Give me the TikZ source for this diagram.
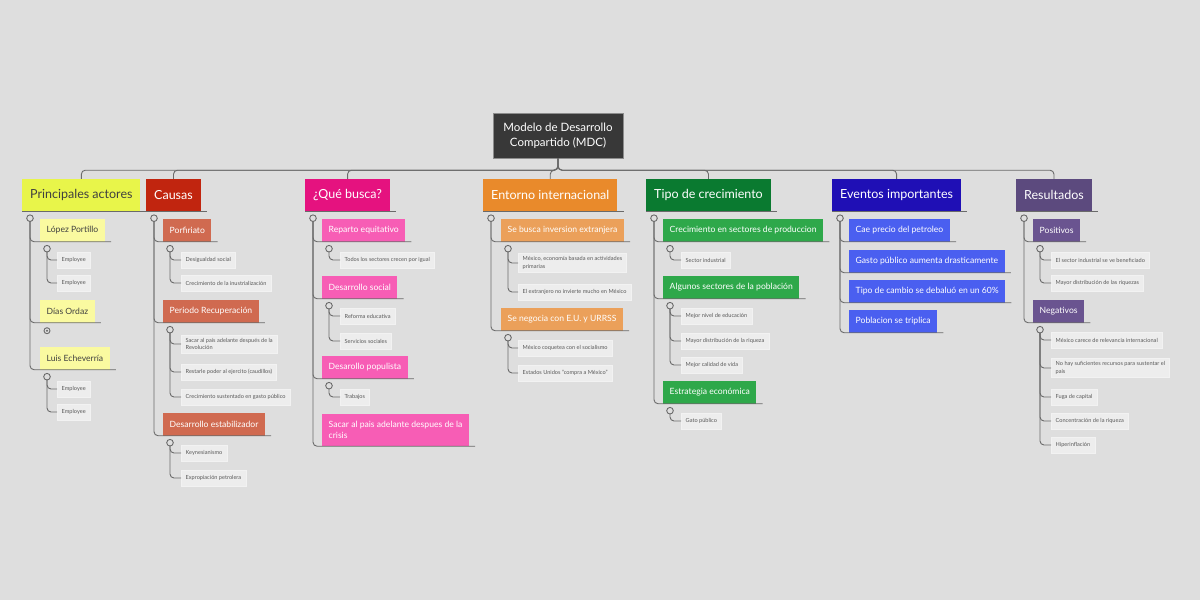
\documentclass[tikz,border=0pt]{standalone}
\usepackage{fontspec}
\setmainfont{Lato}
\begin{document}
\begin{tikzpicture}[x=1pt,y=-1pt]
\definecolor{bg}{HTML}{DEDEDE}
\definecolor{ln}{HTML}{6A6A6A}
\definecolor{cpa}{HTML}{E8F54A}
\definecolor{cca}{HTML}{C1250F}
\definecolor{cqb}{HTML}{E5127F}
\definecolor{cei}{HTML}{E98A2B}
\definecolor{ctc}{HTML}{0A7A30}
\definecolor{cev}{HTML}{1F0FB5}
\definecolor{cre}{HTML}{5C4A7E}
\tikzset{
 conn/.style={draw=ln,line width=0.9pt},
 mainst/.style={anchor=west,minimum height=32pt,inner xsep=8pt,font=\fontsize{12.5}{14}\selectfont},
 subst/.style={anchor=west,minimum height=23pt,inner xsep=6.5pt,text=white,font=\fontsize{8.6}{10.5}\selectfont},
 leafst/.style={anchor=west,minimum height=16pt,inner xsep=4.5pt,fill=black!7,draw=black!5,text=black!65,font=\fontsize{5.6}{7.2}\selectfont,align=left},
}
\newcommand\mn[5]{\node[mainst,fill=#4,text=#5] (#1) at (#2,195) {#3};
 \draw[conn,rounded corners=4] (root.south) -- ++(0,12) -| (#1.north);
 \draw[conn] (#1.south west) -- ([xshift=6pt]#1.south east);}
\newcommand\sn[6]{\node[subst,#6] (#1) at (#3,#4) {#5};
 \draw[conn,rounded corners=4] ([xshift=8pt,yshift=-10pt]#2.south west) |- ([xshift=6pt]#1.south east);}
\newcommand\lf[5]{\node[leafst] (#1) at (#3,#4) {#5};
 \draw[conn,rounded corners=4] ([xshift=7pt,yshift=-10pt]#2.south west) |- (#1.west);}
\newcommand\knob[2]{\draw[conn,fill=bg] ([xshift=#2,yshift=-7pt]#1.south west) circle (3.3pt);}
\fill[bg] (0,0) rectangle (1200,600);
\node[fill=black!78,draw=black!45,text=white,align=center,minimum width=130pt,minimum height=45pt,font=\fontsize{11.5}{15}\selectfont] (root) at (558,135.5) {Modelo de Desarrollo\\Compartido (MDC)};
% mains
\mn{pa}{22}{Principales actores}{cpa}{black!75}
\mn{ca}{146}{Causas}{cca}{white}
\mn{qb}{305}{¿Qué busca?}{cqb}{white}
\mn{ei}{483}{Entorno internacional}{cei}{white}
\mn{tc}{646}{Tipo de crecimiento}{ctc}{white}
\mn{ev}{832}{Eventos importantes}{cev}{white}
\mn{re}{1016}{Resultados}{cre}{white}
% Principales
\tikzset{ys/.style={fill={rgb,255:red,250;green,250;blue,160},text=black!75}}
\sn{lp}{pa}{40}{230}{López Portillo}{ys}
\sn{do}{pa}{40}{311}{Días Ordaz}{ys}
\sn{le}{pa}{40}{358}{Luis Echeverría}{ys}
\lf{lp1}{lp}{57}{260}{Employee}\lf{lp2}{lp}{57}{283}{Employee}
\lf{le1}{le}{57}{389}{Employee}\lf{le2}{le}{57}{412}{Employee}
\knob{lp}{7pt}\knob{le}{7pt}
\draw[conn,fill=bg] ([xshift=7pt,yshift=-8pt]do.south west) circle (3pt);
\fill[ln] ([xshift=7pt,yshift=-8pt]do.south west) circle (1.1pt);
% Causas
\tikzset{cs/.style={fill={rgb,255:red,208;green,106;blue,80}}}
\sn{pf}{ca}{163}{230}{Porfiriato}{cs}
\sn{pr}{ca}{163}{311}{Periodo Recuperación}{cs}
\sn{de}{ca}{163}{424}{Desarrollo estabilizador}{cs}
\lf{pf1}{pf}{181}{260}{Desigualdad social}\lf{pf2}{pf}{181}{283}{Crecimiento de la inustrialización}
\lf{pr1}{pr}{181}{344}{Sacar al país adelante después de la\\Revolución}
\lf{pr2}{pr}{181}{372}{Restarle poder al ejercito (caudillos)}
\lf{pr3}{pr}{181}{397}{Crecimiento sustentado en gasto público}
\lf{de1}{de}{181}{453}{Keynesianismo}\lf{de2}{de}{181}{478}{Expropiación petrolera}
\knob{pf}{7pt}\knob{pr}{7pt}\knob{de}{7pt}
% Que busca
\tikzset{qs/.style={fill={rgb,255:red,247;green,93;blue,181}}}
\sn{rq}{qb}{322}{230}{Reparto equitativo}{qs}
\sn{ds}{qb}{322}{287}{Desarrollo social}{qs}
\sn{dp}{qb}{322}{367}{Desarollo populista}{qs}
\sn{sp}{qb}{322}{430}{Sacar al pais adelante despues de la\\crisis}{qs,align=left,minimum height=32pt}
\lf{rq1}{rq}{340}{260}{Todos los sectores crecen por igual}
\lf{ds1}{ds}{340}{316}{Reforma educativa}\lf{ds2}{ds}{340}{341}{Servicios sociales}
\lf{dp1}{dp}{340}{397}{Trabajos}
\knob{rq}{7pt}\knob{ds}{7pt}\knob{dp}{7pt}
% Entorno
\tikzset{es/.style={fill={rgb,255:red,235;green,160;blue,90}}}
\sn{bi}{ei}{501}{230}{Se busca inversion extranjera}{es}
\sn{nc}{ei}{501}{319}{Se negocia con E.U. y URRSS}{es}
\lf{bi1}{bi}{518}{263}{México, economía basada en actividades\\primarias}
\lf{bi2}{bi}{518}{292}{El extranjero no invierte mucho en México}
\lf{nc1}{nc}{518}{348}{México coquetea con el socialismo}
\lf{nc2}{nc}{518}{373}{Estados Unidos "compra a México"}
\knob{bi}{7pt}\knob{nc}{7pt}
% Tipo
\tikzset{ts/.style={fill={rgb,255:red,46;green,168;blue,74}}}
\sn{cs1}{tc}{663}{230}{Crecimiento en sectores de produccion}{ts}
\sn{as}{tc}{663}{287}{Algunos sectores de la población}{ts}
\sn{ee}{tc}{663}{392}{Estrategia económica}{ts}
\lf{cs11}{cs1}{681}{260}{Sector industrial}
\lf{as1}{as}{681}{316}{Mejor nivel de educación}\lf{as2}{as}{681}{341}{Mayor distribución de la riqueza}\lf{as3}{as}{681}{365}{Mejor calidad de vida}
\lf{ee1}{ee}{681}{421}{Gato público}
\knob{cs1}{7pt}\knob{as}{7pt}\knob{ee}{7pt}
% Eventos
\tikzset{vs/.style={fill={rgb,255:red,74;green,95;blue,240}}}
\sn{e1}{ev}{849}{230}{Cae precio del petroleo}{vs}
\sn{e2}{ev}{849}{261}{Gasto público aumenta drasticamente}{vs}
\sn{e3}{ev}{849}{291}{Tipo de cambio se debaluó en un 60\%}{vs}
\sn{e4}{ev}{849}{321}{Poblacion se triplica}{vs}
% Resultados
\tikzset{rs/.style={fill={rgb,255:red,106;green,84;blue,144}}}
\sn{po}{re}{1033}{230}{Positivos}{rs}
\sn{ne}{re}{1033}{311}{Negativos}{rs}
\lf{po1}{po}{1051}{260}{El sector industrial se ve beneficiado}
\lf{po2}{po}{1051}{283}{Mayor distribución de las riquezas}
\lf{ne1}{ne}{1051}{340}{México carece de relevancia internacional}
\lf{ne2}{ne}{1051}{368}{No hay suficientes recursos para sustentar el\\país}
\lf{ne3}{ne}{1051}{397}{Fuga de capital}
\lf{ne4}{ne}{1051}{421}{Concentración de la riqueza}
\lf{ne5}{ne}{1051}{445}{Hiperinflación}
\knob{po}{7pt}\knob{ne}{7pt}
% main knobs
\foreach \m in {pa,ca,qb,ei,tc,ev,re}{\knob{\m}{8pt}}
\end{tikzpicture}
\end{document}
